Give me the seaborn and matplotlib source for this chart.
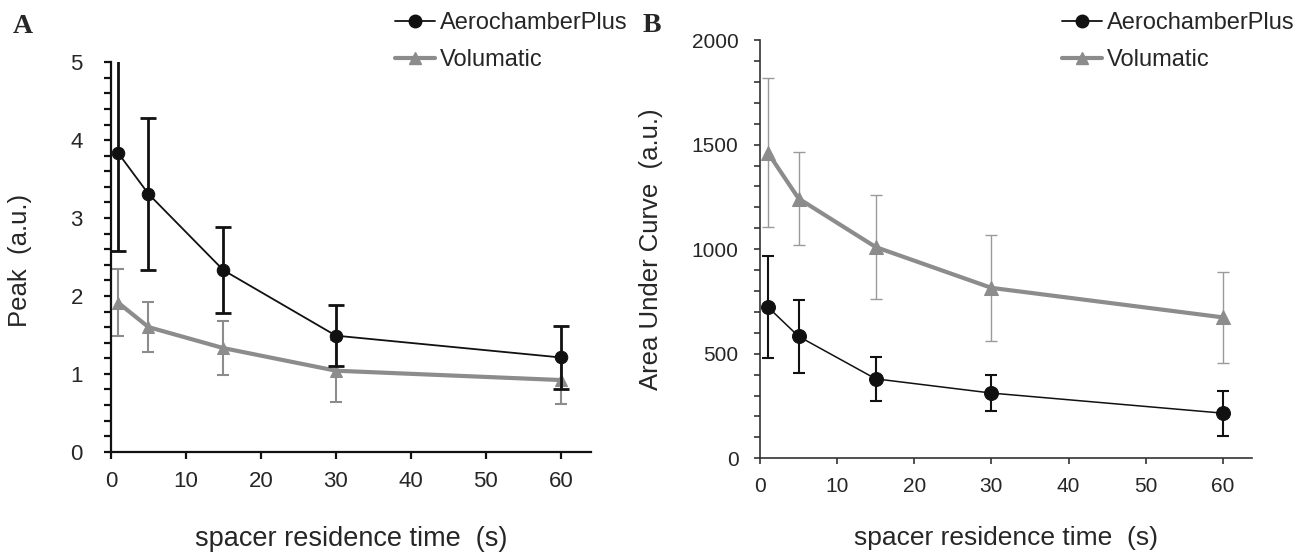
import pandas as pd
import seaborn as sns
import matplotlib.pyplot as plt
from matplotlib.lines import Line2D
from matplotlib.ticker import MultipleLocator

# residence times (s)
time_s = [1, 5, 15, 30, 60]

# panel A - peak (a.u.), mean and sd
peak_aero = [3.83, 3.31, 2.33, 1.49, 1.21]
peak_aero_sd = [1.25, 0.98, 0.55, 0.39, 0.41]
peak_volu = [1.91, 1.60, 1.33, 1.04, 0.92]
peak_volu_sd = [0.43, 0.32, 0.35, 0.40, 0.31]

# panel B - area under curve (a.u.), mean and sd
auc_aero = [724, 583, 380, 312, 216]
auc_aero_sd = [243, 173, 106, 88, 108]
auc_volu = [1462, 1242, 1010, 815, 674]
auc_volu_sd = [357, 224, 247, 255, 218]

series_names = ["AerochamberPlus", "Volumatic"]

sns.set_style("ticks")
plt.rcParams['font.family'] = ['Liberation Sans', 'DejaVu Sans']

BLACK = '#111111'
GRAY = '#8c8c8c'


def drawPanel(ax, aero, aero_sd, volu, volu_sd, style):
    frame = pd.DataFrame({"time": time_s, "aero": aero, "volu": volu})

    ax.errorbar(time_s, volu, yerr=volu_sd, fmt='none', ecolor=style["gray_err"],
                elinewidth=style["gray_elw"], capsize=style["gray_cap"],
                capthick=style["gray_elw"], zorder=1)
    sns.lineplot(data=frame, x="time", y="volu", ax=ax, color=GRAY,
                 linewidth=style["gray_lw"], marker="^", markersize=style["ms"],
                 markeredgecolor=GRAY, zorder=2)
    ax.errorbar(time_s, aero, yerr=aero_sd, fmt='none', ecolor=BLACK,
                elinewidth=style["black_elw"], capsize=style["black_cap"],
                capthick=style["black_elw"], zorder=3)
    sns.lineplot(data=frame, x="time", y="aero", ax=ax, color=BLACK,
                 linewidth=style["black_lw"], marker="o", markersize=style["ms"],
                 markeredgecolor=BLACK, zorder=4)

    sns.despine(ax=ax)
    for side in ["left", "bottom"]:
        ax.spines[side].set_linewidth(style["spine"])
        ax.spines[side].set_color(style["spine_color"])
    ax.set_xticks([0, 10, 20, 30, 40, 50, 60])
    ax.tick_params(axis='both', which='both', direction='out',
                   labelsize=style["tick_fs"], length=style["tick_len"],
                   width=style["spine"], color=style["spine_color"])
    ax.tick_params(axis='y', pad=style["ypad"])
    ax.tick_params(axis='x', pad=9)


fig = plt.figure(figsize=(13.01, 5.52), dpi=100)
axA = fig.add_axes([0.0853, 0.1817, 0.3689, 0.7054])
axB = fig.add_axes([0.5842, 0.1697, 0.3782, 0.7578])

styleA = dict(gray_err='#8c8c8c', gray_elw=1.5, gray_cap=4.5, gray_lw=3.0,
              black_elw=2.0, black_cap=5.5, black_lw=1.3, ms=9,
              spine=1.6, spine_color='#111111', tick_len=5.2, ypad=15,
              tick_fs=16)
styleB = dict(gray_err='#9a9a9a', gray_elw=1.0, gray_cap=4.0, gray_lw=3.0,
              black_elw=1.5, black_cap=4.5, black_lw=1.1, ms=10,
              spine=1.2, spine_color='#333333', tick_len=4.5, ypad=11,
              tick_fs=15)

drawPanel(axA, peak_aero, peak_aero_sd, peak_volu, peak_volu_sd, styleA)
drawPanel(axB, auc_aero, auc_aero_sd, auc_volu, auc_volu_sd, styleB)

axA.set(xlim=(0, 64), ylim=(0, 5))
axA.yaxis.set_major_locator(MultipleLocator(1))
axA.yaxis.set_minor_locator(MultipleLocator(0.2))
axB.set(xlim=(0, 63.8), ylim=(0, 2000))
axB.yaxis.set_major_locator(MultipleLocator(500))
axB.yaxis.set_minor_locator(MultipleLocator(100))

axA.set_xlabel("spacer residence time  (s)", fontsize=19.5)
axA.set_ylabel("Peak  (a.u.)", fontsize=18.5)
axB.set_xlabel("spacer residence time  (s)", fontsize=19)
axB.set_ylabel("Area Under Curve  (a.u.)", fontsize=18.5)
axA.xaxis.set_label_coords(0.5, -0.19)
axA.yaxis.set_label_coords(-0.165, 0.49)
axB.xaxis.set_label_coords(0.5, -0.162)
axB.yaxis.set_label_coords(-0.197, 0.5)

handles = [
    Line2D([], [], color=BLACK, lw=1.3, marker="o", markersize=9),
    Line2D([], [], color=GRAY, lw=3.0, marker="^", markersize=9),
]
for xpos in [395 / 1301, 1061.7 / 1301]:
    fig.legend(handles, series_names, loc='upper left',
               bbox_to_anchor=(xpos, 0.978), frameon=False, fontsize=17,
               handlelength=1.7, handletextpad=0.2, labelspacing=0.63,
               borderpad=0, borderaxespad=0, numpoints=1)

fig.text(13 / 1301, 1 - 33 / 552, "A", fontsize=20, fontweight='bold',
         family=['Liberation Serif', 'DejaVu Serif'])
fig.text(643 / 1301, 1 - 32 / 552, "B", fontsize=20, fontweight='bold',
         family=['Liberation Serif', 'DejaVu Serif'])

fig.savefig("out.png", dpi=100)
